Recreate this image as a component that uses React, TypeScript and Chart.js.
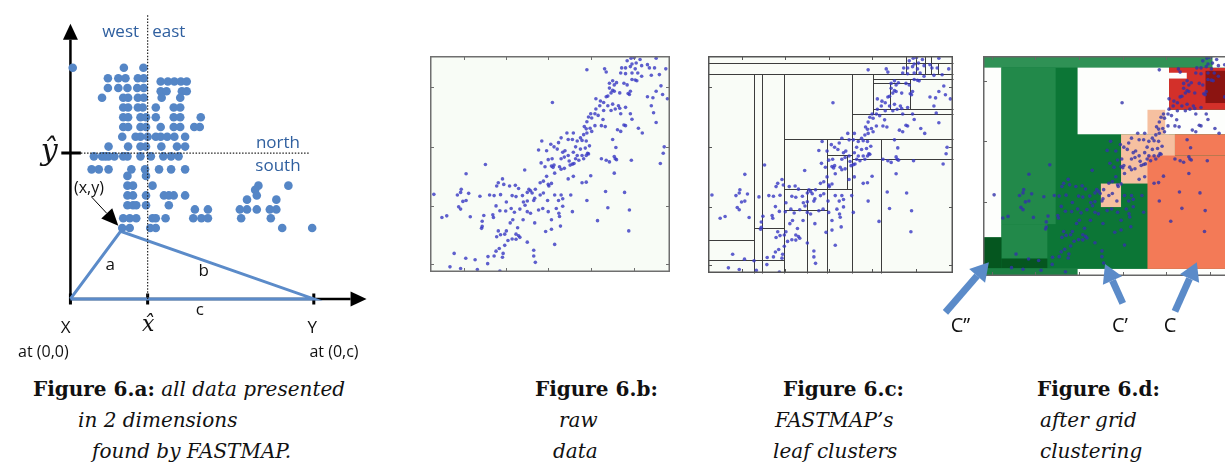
import React, { useEffect, useRef } from "react";
import { Chart, registerables } from "chart.js";
Chart.register(...registerables);

// ---------- Figure 6.a : FASTMAP projection (units: X at 0, Y at c) ----------
const cLen = 747;
const xHat = 237;
const yHat = 448;
const apex: [number, number] = [154, 208];
const mapPoints: [number, number][] = [
  [7, 710], [164, 710], [224, 710],
  [115, 678], [147, 678], [169, 678], [207, 678], [225, 678],
  [277, 668], [299, 668], [319, 668], [339, 668], [357, 668],
  [115, 648], [147, 648], [175, 648], [205, 648], [225, 648],
  [277, 638], [295, 638], [342, 638], [357, 638],
  [97, 618], [162, 618], [177, 618], [207, 618], [225, 618], [280, 618], [337, 618],
  [162, 588], [177, 588], [207, 588], [222, 588], [262, 588], [317, 588], [337, 588],
  [162, 558], [177, 558], [215, 558], [232, 558], [262, 558], [317, 558], [337, 558], [400, 558],
  [162, 528], [177, 528], [215, 528], [232, 528], [277, 528], [317, 528], [337, 528], [380, 528], [397, 528],
  [159, 498], [200, 498], [215, 498], [237, 498], [262, 498], [277, 498], [297, 498], [319, 498], [352, 498],
  [117, 468], [177, 468], [215, 468], [232, 468], [279, 468], [327, 468], [352, 468],
  [72, 438], [97, 438], [107, 438], [117, 438], [135, 438], [162, 438], [175, 438], [215, 438], [247, 438], [285, 438], [309, 438], [332, 438],
  [65, 398], [87, 398], [117, 398], [187, 398], [229, 398], [272, 398], [309, 398], [352, 398],
  [175, 378], [232, 378],
  [175, 348], [192, 348], [252, 348], [577, 348], [669, 348],
  [567, 335],
  [175, 318], [192, 318], [232, 318], [287, 318], [302, 318], [317, 318], [352, 318], [572, 318],
  [542, 305], [632, 305],
  [175, 288], [192, 288], [202, 288], [232, 288], [302, 288],
  [382, 275], [422, 275], [520, 275], [542, 275], [572, 275], [612, 275], [632, 275],
  [162, 248], [182, 248], [202, 248], [252, 248], [262, 248], [292, 248], [377, 248], [402, 248], [422, 248], [524, 248], [615, 248],
  [159, 218], [182, 218], [245, 218], [262, 218], [650, 218], [742, 218],
];

// ---------- Figures 6.b / 6.c / 6.d : raw data ----------
const rawPoints: [number, number][] = [
  [624, 666], [634, 668], [652, 662], [702, 666], [612, 658], [627, 648], [640, 651], [657, 643], [675, 646],
  [595, 636], [607, 636], [622, 640], [637, 633], [681, 636], [697, 636], [732, 633], [542, 633], [547, 623],
  [487, 630], [592, 620], [607, 618], [627, 620], [645, 620], [657, 610], [712, 615], [687, 613], [567, 596],
  [557, 588], [572, 583], [579, 590], [602, 588], [612, 583], [627, 600], [637, 598], [642, 596], [717, 580],
  [702, 563], [692, 543], [722, 553], [737, 540], [557, 573], [567, 566], [562, 558], [572, 563], [552, 548],
  [589, 558], [615, 556], [619, 553], [622, 563], [380, 528], [515, 540], [547, 546], [529, 533], [539, 528],
  [527, 518], [552, 518], [567, 523], [585, 518], [539, 503], [562, 503], [575, 508], [589, 510], [607, 513],
  [515, 508], [499, 493], [512, 493], [522, 488], [492, 483], [502, 480], [622, 493], [627, 476], [592, 493],
  [694, 496], [537, 475], [487, 468], [479, 453], [485, 446], [497, 448], [512, 456], [532, 456], [544, 453],
  [602, 458], [607, 456], [582, 443], [592, 438], [647, 448], [659, 433], [702, 466], [687, 518], [675, 546],
  [425, 433], [445, 433], [467, 418], [477, 428], [487, 433], [502, 438], [429, 413], [442, 413], [457, 408],
  [472, 410], [485, 408], [407, 418], [567, 413], [347, 408], [375, 398], [399, 403], [385, 390], [452, 390],
  [467, 383], [482, 386], [495, 393], [577, 388], [362, 378], [337, 380], [395, 383], [412, 373], [419, 378],
  [429, 363], [445, 373], [457, 363], [472, 363], [485, 363], [489, 370], [345, 340], [367, 350], [379, 353],
  [385, 333], [407, 353], [417, 358], [432, 346], [442, 336], [452, 353], [462, 348], [477, 353], [492, 368],
  [532, 353], [547, 348], [572, 360], [579, 350], [575, 353], [625, 348], [727, 390], [724, 370], [715, 338],
  [172, 335], [294, 318], [357, 328], [377, 330], [382, 326], [402, 328], [417, 323], [435, 333], [447, 338],
  [112, 306], [207, 268], [225, 290], [212, 278], [229, 273], [247, 268], [265, 270], [275, 260], [307, 258],
  [312, 253], [327, 258], [342, 278], [352, 283], [367, 273], [377, 276], [369, 268], [362, 298], [387, 308],
  [407, 320], [429, 290], [445, 298], [472, 278], [485, 280], [499, 300], [572, 308], [557, 343], [97, 258],
  [95, 248], [85, 240], [12, 242], [102, 220], [112, 223], [120, 245], [89, 203], [95, 196], [155, 236],
  [185, 240], [199, 238], [219, 241], [237, 218], [255, 238], [267, 235], [287, 238], [302, 248], [317, 246],
  [325, 230], [342, 240], [352, 246], [365, 223], [387, 240], [407, 240], [399, 223], [412, 228], [437, 240],
  [290, 218], [302, 221], [322, 223], [205, 206], [217, 191], [235, 190], [195, 178], [197, 170], [167, 176],
  [252, 198], [262, 186], [279, 196], [295, 208], [302, 188], [312, 183], [337, 193], [350, 198], [367, 188],
  [392, 198], [400, 183], [412, 205], [442, 188], [487, 223], [545, 251], [552, 200], [604, 248], [619, 193],
  [520, 160], [37, 170], [52, 175], [125, 172], [162, 158], [162, 142], [160, 136], [207, 110], [212, 128],
  [219, 116], [232, 118], [237, 128], [249, 153], [257, 163], [267, 118], [272, 138], [279, 108], [289, 163],
  [325, 153], [377, 163], [402, 173], [405, 143], [377, 133], [359, 126], [617, 128], [75, 58], [111, 43],
  [140, 38], [180, 48], [179, 26], [199, 50], [205, 65], [215, 73], [227, 58], [225, 46], [232, 83],
  [242, 98], [255, 103], [267, 102], [275, 113], [302, 93], [322, 68], [322, 50], [327, 30], [387, 86],
  [62, 16], [95, 11], [147, 8], [217, 3],
];
const rawTicksX = [104, 235, 367, 500, 632];
const rawTicksY = [25, 206, 391, 576];

// FASTMAP leaf-cluster borders [x0, y0, x1, y1]
const leafSegments: [number, number, number, number][] = [
  [0, 652, 745, 652], [0, 617, 745, 617],
  [601, 617, 601, 673], [632, 617, 632, 673], [660, 617, 660, 673], [677, 617, 677, 673], [699, 617, 699, 652],
  [140, 0, 140, 617], [165, 0, 165, 617], [231, 0, 231, 617], [439, 0, 439, 617],
  [231, 415, 745, 415], [439, 355, 745, 355], [527, 0, 527, 415],
  [503, 602, 745, 602], [503, 588, 615, 588], [503, 492, 503, 617], [552, 510, 552, 588], [615, 510, 615, 602],
  [503, 510, 745, 510], [439, 492, 745, 492],
  [361, 0, 361, 415], [361, 365, 439, 365], [424, 262, 424, 365], [231, 262, 439, 262], [231, 195, 361, 195],
  [302, 0, 302, 262], [0, 102, 140, 102], [0, 40, 231, 40], [140, 140, 231, 140],
];

// Grid clustering cells (Figure 6.d) [x0, y0, x1, y1] with cluster name
const gridCells: { box: [number, number, number, number]; cluster: string }[] = [
  { box: [-20, -10, 745, 673], cluster: "greenDark" },
  { box: [-20, 637, 745, 673], cluster: "greenTop" },
  { box: [-20, 110, 33, 637], cluster: "empty" },
  { box: [33, 151, 189, 637], cluster: "greenMid" },
  { box: [33, 44, 165, 151], cluster: "greenMid" },
  { box: [-20, 14, 33, 110], cluster: "greenDeep" },
  { box: [33, 14, 165, 44], cluster: "greenDeep" },
  { box: [-20, -10, 252, 14], cluster: "greenBottom" },
  { box: [252, -10, 745, 12], cluster: "empty" },
  { box: [252, 430, 515, 637], cluster: "empty" },
  { box: [501, 430, 745, 506], cluster: "empty" },
  { box: [515, 506, 745, 637], cluster: "red" },
  { box: [515, 603, 566, 621], cluster: "empty" },
  { box: [620, 527, 745, 627], cluster: "redDeep" },
  { box: [453, 430, 504, 506], cluster: "salmon" },
  { box: [377, 277, 532, 430], cluster: "salmon" },
  { box: [319, 204, 377, 277], cluster: "salmon" },
  { box: [453, 12, 745, 364], cluster: "orange" },
  { box: [532, 364, 745, 430], cluster: "orange" },
  { box: [640, 637, 745, 673], cluster: "empty" },
];
const clusterColors: Record<string, string> = {
  greenDark: "#0c7636",
  greenTop: "#2f9155",
  greenMid: "#22894a",
  greenDeep: "#05561f",
  greenBottom: "#1c8044",
  empty: "#fdfefc",
  red: "#d3302a",
  redDeep: "#8c1411",
  salmon: "#f6c0a0",
  orange: "#f37a57",
};
const gridTicksX = [5, 130, 255, 382, 507, 632];
const gridTicksY = [220, 408, 594];
const clusterArrows: { label: string; tail: [number, number]; tip: [number, number]; text: [number, number] }[] = [
  { label: "C\u2019\u2019", tail: [-128, -123], tip: [-3, 33], text: [-85, -166] },
  { label: "C\u2019", tail: [382, -95], tip: [331, 27], text: [374, -166] },
  { label: "C", tail: [532, -120], tip: [595, 33], text: [518, -166] },
];

// ---------- helpers ----------
function arrow(ctx: CanvasRenderingContext2D, x1: number, y1: number, x2: number, y2: number, color: string, w: number, hl: number, hw: number) {
  const a = Math.atan2(y2 - y1, x2 - x1);
  const bx = x2 - hl * Math.cos(a);
  const by = y2 - hl * Math.sin(a);
  ctx.strokeStyle = color;
  ctx.lineWidth = w;
  ctx.beginPath();
  ctx.moveTo(x1, y1);
  ctx.lineTo(bx, by);
  ctx.stroke();
  ctx.fillStyle = color;
  ctx.beginPath();
  ctx.moveTo(x2, y2);
  ctx.lineTo(bx + (hw / 2) * Math.sin(a), by - (hw / 2) * Math.cos(a));
  ctx.lineTo(bx - (hw / 2) * Math.sin(a), by + (hw / 2) * Math.cos(a));
  ctx.closePath();
  ctx.fill();
}

function baseOptions(xmin: number, xmax: number, ymin: number, ymax: number, padding: any = 0) {
  return {
    responsive: false,
    animation: false,
    devicePixelRatio: 1,
    events: [],
    layout: { padding },
    plugins: { legend: { display: false }, tooltip: { enabled: false } },
    scales: {
      x: { type: "linear", min: xmin, max: xmax, display: false },
      y: { type: "linear", min: ymin, max: ymax, display: false },
    },
  } as any;
}

const toXY = (p: [number, number]) => ({ x: p[0], y: p[1] });

function drawFrame(chart: any, tx: number[], ty: number[], color: string) {
  const { ctx, chartArea: a, scales } = chart;
  ctx.save();
  ctx.strokeStyle = color;
  ctx.lineWidth = 1.5;
  ctx.strokeRect(a.left + 0.75, a.top + 0.75, a.right - a.left - 1.5, a.bottom - a.top - 1.5);
  ctx.lineWidth = 1;
  ctx.beginPath();
  tx.forEach((v) => {
    const px = Math.round(scales.x.getPixelForValue(v)) + 0.5;
    ctx.moveTo(px, a.top);
    ctx.lineTo(px, a.top + 4);
    ctx.moveTo(px, a.bottom);
    ctx.lineTo(px, a.bottom - 4);
  });
  ty.forEach((v) => {
    const py = Math.round(scales.y.getPixelForValue(v)) + 0.5;
    ctx.moveTo(a.left, py);
    ctx.lineTo(a.left + 4, py);
    ctx.moveTo(a.right, py);
    ctx.lineTo(a.right - 4, py);
  });
  ctx.stroke();
  ctx.restore();
}

const rawDataset = {
  data: rawPoints.map(toXY),
  pointRadius: 1.8,
  pointBackgroundColor: "rgba(55,55,195,0.8)",
  pointBorderWidth: 0,
  showLine: false,
};

// ---------- chart configs ----------
function configA() {
  const opts = baseOptions(-203, 937, -205, 905);
  const plugin = {
    id: "fastmapAxes",
    beforeDatasetsDraw(chart: any) {
      const { ctx, scales } = chart;
      const X = (v: number) => scales.x.getPixelForValue(v);
      const Y = (v: number) => scales.y.getPixelForValue(v);
      ctx.save();
      arrow(ctx, X(0), Y(0), X(0), Y(845), "#000", 2.5, 16, 15);
      arrow(ctx, X(0), Y(0), X(909), Y(0), "#000", 2.5, 16, 15);
      ctx.strokeStyle = "#000";
      ctx.lineWidth = 3;
      ctx.beginPath();
      [0, xHat, cLen].forEach((v) => {
        ctx.moveTo(X(v), Y(17));
        ctx.lineTo(X(v), Y(-17));
      });
      ctx.moveTo(X(-28), Y(yHat));
      ctx.lineTo(X(32), Y(yHat));
      ctx.stroke();
      ctx.restore();
    },
    afterDatasetsDraw(chart: any) {
      const { ctx, scales } = chart;
      const X = (v: number) => scales.x.getPixelForValue(v);
      const Y = (v: number) => scales.y.getPixelForValue(v);
      ctx.save();
      ctx.strokeStyle = "#222";
      ctx.lineWidth = 1.2;
      ctx.setLineDash([1.5, 1.6]);
      ctx.beginPath();
      ctx.moveTo(X(xHat), Y(0));
      ctx.lineTo(X(xHat), Y(872));
      ctx.moveTo(X(32), Y(yHat));
      ctx.lineTo(X(732), Y(yHat));
      ctx.stroke();
      ctx.setLineDash([]);
      ctx.lineWidth = 1;
      arrow(ctx, X(65), Y(313), X(147), Y(225), "#000", 1, 17, 15);
      ctx.textAlign = "center";
      ctx.textBaseline = "middle";
      ctx.fillStyle = "#2f5f9f";
      ctx.font = '17px "Open Sans"';
      ctx.fillText("west", X(154), Y(820));
      ctx.fillText("east", X(302), Y(820));
      ctx.fillText("north", X(637), Y(478));
      ctx.fillText("south", X(637), Y(408));
      ctx.fillStyle = "#111";
      ctx.font = '16px "Open Sans"';
      ctx.fillText("(x,y)", X(57), Y(340));
      ctx.font = '17px "Open Sans"';
      ctx.fillText("a", X(122), Y(105));
      ctx.fillText("b", X(409), Y(85));
      ctx.fillText("c", X(397), Y(-35));
      ctx.fillText("X", X(-15), Y(-90));
      ctx.fillText("Y", X(742), Y(-90));
      ctx.font = '16px "Open Sans"';
      ctx.fillText("at (0,0)", X(-83), Y(-163));
      ctx.fillText("at (0,c)", X(809), Y(-163));
      ctx.font = 'italic 30px "DejaVu Serif"';
      ctx.fillText("\u0177", X(-65), Y(452));
      ctx.font = 'italic 22px "DejaVu Serif"';
      ctx.fillText("x\u0302", X(239), Y(-80));
      ctx.restore();
    },
  };
  return {
    type: "scatter",
    data: {
      datasets: [
        {
          data: mapPoints.map(toXY),
          pointRadius: 4.3,
          pointBackgroundColor: "#5586c6",
          pointBorderWidth: 0,
          showLine: false,
        },
        {
          data: [[0, 0], apex, [cLen, 0], [0, 0]].map((p: any) => toXY(p)),
          showLine: true,
          borderColor: "#5b8bc9",
          borderWidth: 3,
          pointRadius: 0,
          tension: 0,
          fill: false,
        },
      ],
    },
    options: opts,
    plugins: [plugin],
  } as any;
}

function configB() {
  const plugin = {
    id: "rawFrame",
    beforeDatasetsDraw(chart: any) {
      const { ctx, chartArea: a } = chart;
      ctx.save();
      ctx.fillStyle = "#f8fcf6";
      ctx.fillRect(a.left, a.top, a.right - a.left, a.bottom - a.top);
      ctx.restore();
    },
    afterDraw(chart: any) {
      drawFrame(chart, rawTicksX, rawTicksY, "#6f6f6f");
    },
  };
  return {
    type: "scatter",
    data: { datasets: [rawDataset] },
    options: baseOptions(0, 745, 0, 673),
    plugins: [plugin],
  } as any;
}

function configC() {
  const plugin = {
    id: "leafFrame",
    beforeDatasetsDraw(chart: any) {
      const { ctx, chartArea: a, scales } = chart;
      ctx.save();
      ctx.fillStyle = "#f9fcf7";
      ctx.fillRect(a.left, a.top, a.right - a.left, a.bottom - a.top);
      ctx.strokeStyle = "#3c3c3c";
      ctx.lineWidth = 1;
      ctx.beginPath();
      leafSegments.forEach(([x0, y0, x1, y1]) => {
        ctx.moveTo(Math.round(scales.x.getPixelForValue(x0)) + 0.5, Math.round(scales.y.getPixelForValue(y0)) + 0.5);
        ctx.lineTo(Math.round(scales.x.getPixelForValue(x1)) + 0.5, Math.round(scales.y.getPixelForValue(y1)) + 0.5);
      });
      ctx.stroke();
      ctx.restore();
    },
    afterDraw(chart: any) {
      drawFrame(chart, rawTicksX, rawTicksY, "#555");
    },
  };
  return {
    type: "scatter",
    data: { datasets: [rawDataset] },
    options: baseOptions(0, 745, 0, 673),
    plugins: [plugin],
  } as any;
}

function configD() {
  const plugin = {
    id: "gridCells",
    beforeDatasetsDraw(chart: any) {
      const { ctx, scales } = chart;
      ctx.save();
      gridCells.forEach(({ box: [x0, y0, x1, y1], cluster }) => {
        const l = scales.x.getPixelForValue(x0);
        const r = scales.x.getPixelForValue(x1);
        const t = scales.y.getPixelForValue(y1);
        const b = scales.y.getPixelForValue(y0);
        ctx.fillStyle = clusterColors[cluster];
        ctx.fillRect(l, t, r - l, b - t);
      });
      ctx.restore();
    },
    afterDraw(chart: any) {
      drawFrame(chart, gridTicksX, gridTicksY, "#666");
      const { ctx, scales } = chart;
      const X = (v: number) => scales.x.getPixelForValue(v);
      const Y = (v: number) => scales.y.getPixelForValue(v);
      ctx.save();
      clusterArrows.forEach((c) => {
        arrow(ctx, X(c.tail[0]), Y(c.tail[1]), X(c.tip[0]), Y(c.tip[1]), "#5b8bc9", 7, 18, 21);
      });
      ctx.fillStyle = "#111";
      ctx.font = '20px "Open Sans"';
      ctx.textAlign = "center";
      ctx.textBaseline = "middle";
      clusterArrows.forEach((c) => ctx.fillText(c.label, X(c.text[0]), Y(c.text[1])));
      ctx.restore();
    },
  };
  return {
    type: "scatter",
    data: { datasets: [{ ...rawDataset, pointBackgroundColor: "rgba(50,50,170,0.8)" }] },
    options: baseOptions(-20, 745, -10, 673, { left: 53, top: 0, right: 0, bottom: 76 }),
    plugins: [plugin],
  } as any;
}

function ChartBox({ left, top, width, height, make }: { left: number; top: number; width: number; height: number; make: () => any }) {
  const ref = useRef<HTMLCanvasElement>(null);
  useEffect(() => {
    const chart = new Chart(ref.current as HTMLCanvasElement, make());
    return () => chart.destroy();
  }, []);
  return (
    <canvas
      ref={ref}
      width={width}
      height={height}
      style={{ position: "absolute", left, top, width, height }}
    />
  );
}

const capStyle: React.CSSProperties = {
  position: "absolute",
  fontFamily: '"DejaVu Serif", serif',
  fontSize: 20,
  lineHeight: "20px",
  whiteSpace: "nowrap",
  color: "#111",
};

function Cap({ left, y, children }: { left: number; y: number; children: React.ReactNode }) {
  return <div style={{ ...capStyle, left, top: y - 11 }}>{children}</div>;
}

export default function App() {
  return (
    <div style={{ position: "fixed", left: 0, top: 0, width: 1225, height: 466, overflow: "hidden", background: "#fff" }}>
      <ChartBox left={0} top={0} width={380} height={370} make={configA} />
      <ChartBox left={426} top={52} width={248} height={224} make={configB} />
      <ChartBox left={704} top={52} width={253} height={225} make={configC} />
      <ChartBox left={930} top={52} width={323} height={300} make={configD} />

      <Cap left={33} y={390}><b>Figure 6.a</b><b>:</b> <i>all data presented</i></Cap>
      <Cap left={78} y={421}><i>in 2 dimensions</i></Cap>
      <Cap left={92} y={452}><i>found by FASTMAP.</i></Cap>

      <Cap left={535} y={390}><b>Figure 6.b:</b></Cap>
      <Cap left={559} y={421}><i>raw</i></Cap>
      <Cap left={553} y={452}><i>data</i></Cap>

      <Cap left={783} y={390}><b>Figure 6.c:</b></Cap>
      <Cap left={775} y={421}><i>FASTMAP’s</i></Cap>
      <Cap left={773} y={452}><i>leaf clusters</i></Cap>

      <Cap left={1037} y={390}><b>Figure 6.d:</b></Cap>
      <Cap left={1040} y={421}><i>after grid</i></Cap>
      <Cap left={1040} y={452}><i>clustering</i></Cap>
    </div>
  );
}
